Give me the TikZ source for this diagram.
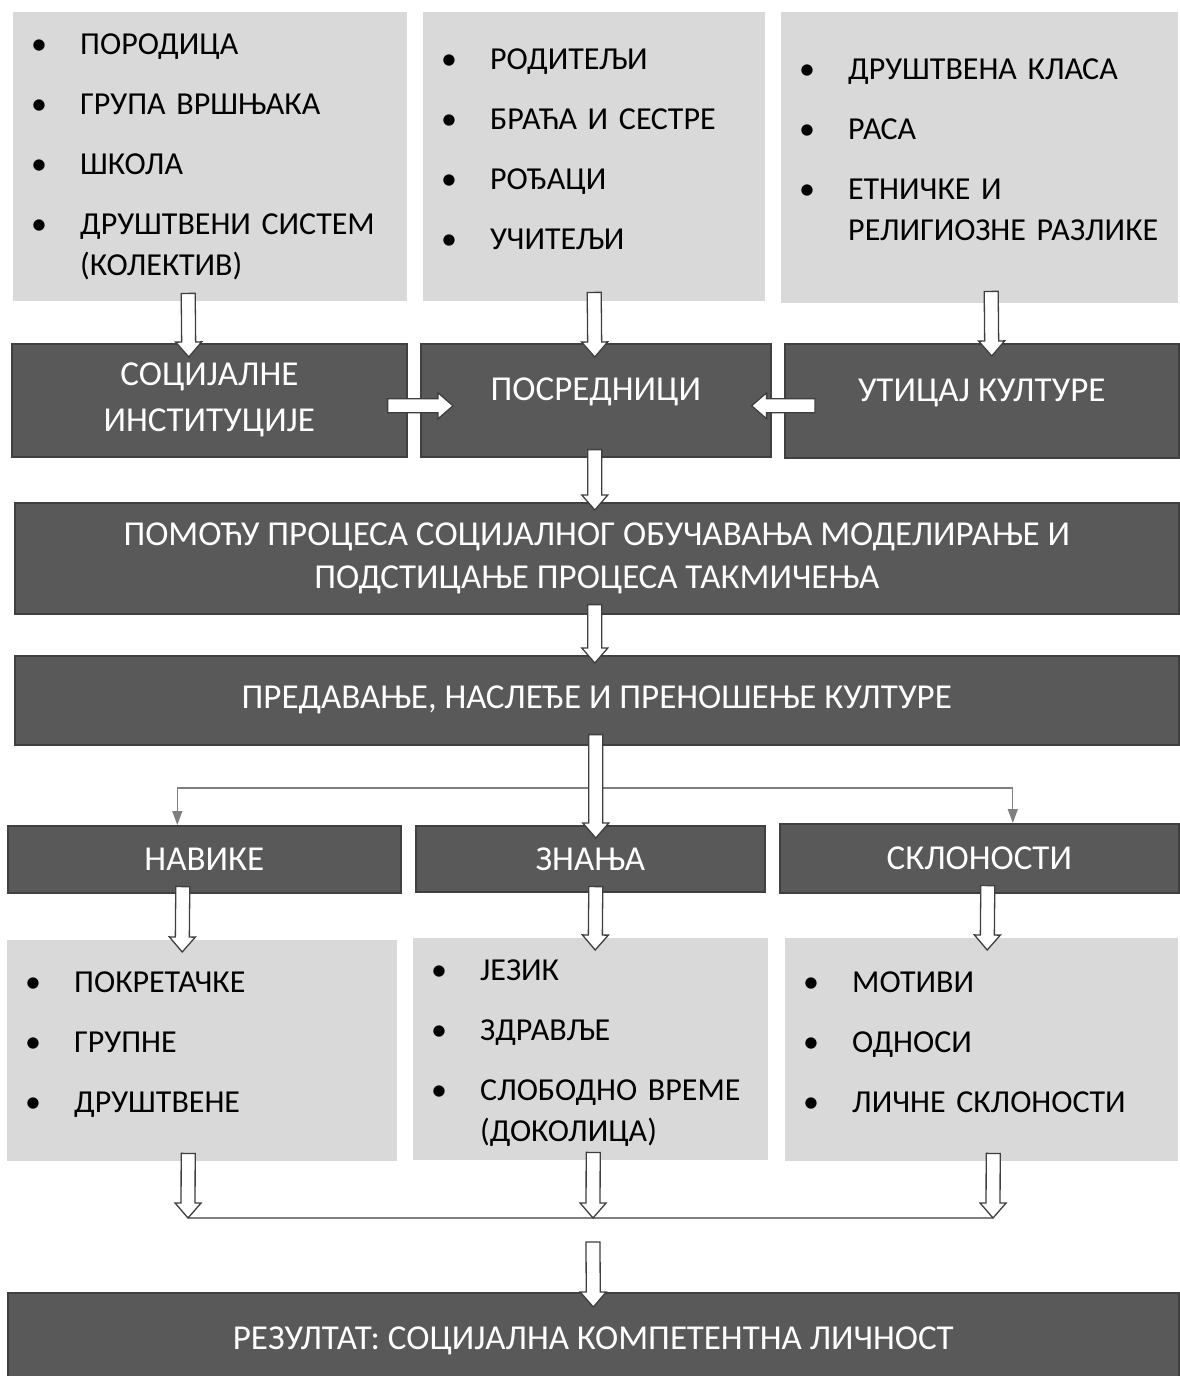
\documentclass[tikz,border=0pt]{standalone}
\usepackage{fontspec}
\setmainfont{Carlito}
\usepackage{tikz}
\usetikzlibrary{calc}
\usetikzlibrary{arrows.meta}

\definecolor{lightfill}{HTML}{D9D9D9}
\definecolor{darkfill}{HTML}{595959}
\definecolor{darkedge}{HTML}{404040}
\definecolor{arrowedge}{HTML}{3F3F3F}
\definecolor{branchgray}{HTML}{7F7F7F}

% bullet list with hanging text
\newcommand{\blist}[1]{\noindent\begin{tabular}{@{}p{49pt}@{}l@{}}#1\end{tabular}}

\tikzset{
  lightbox/.style={fill=lightfill, anchor=north west, inner xsep=18pt, inner ysep=0pt,
    align=left, font=\fontsize{32}{41}\selectfont},
  darkbox/.style={fill=darkfill, draw=darkedge, line width=1.6pt, anchor=north west,
    inner sep=0pt, text=white, align=center, font=\fontsize{35}{45}\selectfont},
  hollow/.style={draw=arrowedge, fill=white, line width=1.3pt, line join=miter,
    to path={let \p1=(\tikztostart), \p2=(\tikztotarget), \p3=($(\p2)!15pt!(\p1)$) in
      ($(\p1)!7pt!90:(\p2)$) -- ($(\p3)!7pt!-90:(\p1)$) -- ($(\p3)!13pt!-90:(\p1)$) -- (\p2)
      -- ($(\p3)!13pt!90:(\p1)$) -- ($(\p3)!7pt!90:(\p1)$) -- ($(\p1)!7pt!-90:(\p2)$) -- cycle}},
  branch/.style={draw=branchgray, line width=1.3pt, -{Triangle[length=14pt, width=10pt]}}
}

\begin{document}
\begin{tikzpicture}[x=1pt, y=-1pt]

\useasboundingbox (0,0) rectangle (1180,1376);

% top row
\node[lightbox, text width=358, minimum height=289] (agents) at (13,12) {\blist{
  \textbullet & ПОРОДИЦА \\[19pt]
  \textbullet & ГРУПА ВРШЊАКА \\[19pt]
  \textbullet & ШКОЛА \\[19pt]
  \textbullet & ДРУШТВЕНИ СИСТЕМ \\
              & (КОЛЕКТИВ)}};
\node[lightbox, text width=306, minimum height=289] (parents) at (423,12) {\blist{
  \textbullet & РОДИТЕЉИ \\[19pt]
  \textbullet & БРАЋА И СЕСТРЕ \\[19pt]
  \textbullet & РОЂАЦИ \\[19pt]
  \textbullet & УЧИТЕЉИ \\[10pt]}};
\node[lightbox, text width=361, minimum height=291] (classes) at (781,12) {\blist{
  \textbullet & ДРУШТВЕНА КЛАСА \\[19pt]
  \textbullet & РАСА \\[19pt]
  \textbullet & ЕТНИЧКЕ И \\
              & РЕЛИГИОЗНЕ РАЗЛИКЕ \\[12pt]}};

\node[darkbox, minimum width=395, minimum height=113] (inst) at (11,343) {СОЦИЈАЛНЕ\\[1pt]ИНСТИТУЦИЈЕ};
\node[darkbox, minimum width=350, minimum height=113, text depth=22pt] (medi) at (420,343) {ПОСРЕДНИЦИ};
\node[darkbox, minimum width=394, minimum height=114, text depth=22pt] (culture) at (784,343) {УТИЦАЈ КУЛТУРЕ};

\node[darkbox, minimum width=1164, minimum height=111] (learning) at (14,502)
  {ПОМОЋУ ПРОЦЕСА СОЦИЈАЛНОГ ОБУЧАВАЊА МОДЕЛИРАЊЕ И\\[-2pt]ПОДСТИЦАЊЕ ПРОЦЕСА ТАКМИЧЕЊА};
\node[darkbox, minimum width=1164, minimum height=89] (transfer) at (14,655)
  {ПРЕДАВАЊЕ, НАСЛЕЂЕ И ПРЕНОШЕЊЕ КУЛТУРЕ};

\node[darkbox, minimum width=393, minimum height=67] (habit) at (7,825) {НАВИКЕ};
\node[darkbox, minimum width=349, minimum height=66] (knowl) at (415,825) {ЗНАЊА};
\node[darkbox, minimum width=399, minimum height=69] (incl) at (779,823) {СКЛОНОСТИ};

% lower lists
\node[lightbox, text width=354, minimum height=221] (habitlist) at (7,940) {\blist{
  \textbullet & ПОКРЕТАЧКЕ \\[19pt]
  \textbullet & ГРУПНЕ \\[19pt]
  \textbullet & ДРУШТВЕНЕ \\[12pt]}};
\node[lightbox, text width=319, minimum height=222] (knowllist) at (413,938) {\blist{
  \noalign{\vskip 8pt}
  \textbullet & ЈЕЗИК \\[19pt]
  \textbullet & ЗДРАВЉЕ \\[19pt]
  \textbullet & СЛОБОДНО ВРЕМЕ \\
              & (ДОКОЛИЦА)}};
\node[lightbox, text width=357, minimum height=223] (incllist) at (785,938) {\blist{
  \textbullet & МОТИВИ \\[19pt]
  \textbullet & ОДНОСИ \\[19pt]
  \textbullet & ЛИЧНЕ СКЛОНОСТИ \\[10pt]}};

\node[darkbox, minimum width=1171, minimum height=96] (result) at (7,1292)
  {РЕЗУЛТАТ: СОЦИЈАЛНА КОМПЕТЕНТНА ЛИЧНОСТ};

\coordinate (fork) at (595,788);
\coordinate (gatherW) at (188,1218);
\coordinate (gatherM) at (593,1218);
\coordinate (gatherE) at (993,1218);

% Draw thin lines
\draw[branch] (fork) -| ([xshift=-27]habit.north);
\draw[branch] (fork) -| ([xshift=33.5]incl.north);
\draw[draw=branchgray, line width=1.3pt] (gatherW) -- (gatherE);

% Draw block arrows
\draw[hollow] ([xshift=-22,yshift=8]agents.south) to ([xshift=-20.5,yshift=-14]inst.north);
\draw[hollow] ([yshift=9]parents.south) to ([xshift=-1,yshift=-14]medi.north);
\draw[hollow] ([xshift=11.5,yshift=12]classes.south) to ([xshift=10,yshift=-13]culture.north);
\draw[hollow] ([xshift=-20,yshift=-5.5]inst.east) to ([xshift=33,yshift=-5.5]medi.west);
\draw[hollow] ([xshift=31,yshift=-5]culture.west) to ([xshift=-20,yshift=-5.5]medi.east);
\draw[hollow] ([xshift=-1,yshift=8]medi.south) to ([xshift=-2,yshift=-8]learning.north);
\draw[hollow] ([xshift=-2,yshift=10]learning.south) to ([xshift=-2,yshift=-8]transfer.north);
\draw[hollow] ([xshift=-1,yshift=11]transfer.south) to ([xshift=5.5,yshift=-13]knowl.north);

\draw[hollow] ([xshift=-21.5,yshift=7]habit.south) to ([xshift=-20,yshift=-12]habitlist.north);
\draw[hollow] ([xshift=5.5,yshift=6]knowl.south) to ([xshift=4.5,yshift=-12]knowllist.north);
\draw[hollow] ([xshift=8.5,yshift=8]incl.south) to ([xshift=5.5,yshift=-12]incllist.north);

\draw[hollow] ([xshift=-14,yshift=8]habitlist.south) to (gatherW);
\draw[hollow] ([xshift=2.5,yshift=8]knowllist.south) to (gatherM);
\draw[hollow] ([xshift=11.5,yshift=8]incllist.south) to (gatherE);
\draw[hollow] ([yshift=-24]gatherM) to ([yshift=-15]result.north);

\end{tikzpicture}
\end{document}
